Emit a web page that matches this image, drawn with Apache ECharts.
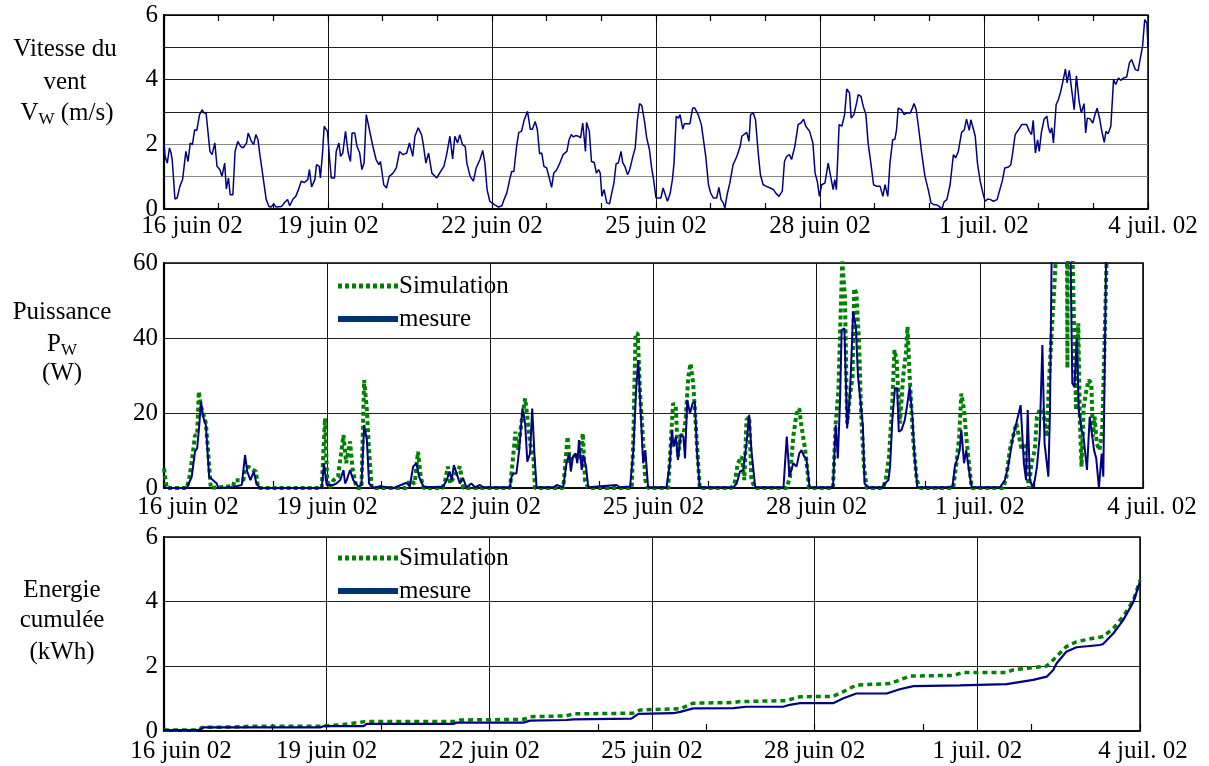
<!DOCTYPE html>
<html>
<head>
<meta charset="utf-8">
<script src="https://cdn.jsdelivr.net/npm/echarts@6/dist/echarts.min.js"></script>
<style>
html,body{margin:0;padding:0;background:#fff;}
#chart{width:1209px;height:766px;}
</style>
</head>
<body>
<div id="chart"></div>
<script>
// ---------- DATA ----------
const dayTickLabels = ['16 juin 02','19 juin 02','22 juin 02','25 juin 02','28 juin 02','1 juil. 02','4 juil. 02'];
const windYTicks = [0,2,4,6];
const powerYTicks = [0,20,40,60];
const energyYTicks = [0,2,4,6];

// wind speed (m/s): [days since 16 juin 02, value]
const windSpeed = [[0.00,2.04],[0.02,1.63],[0.06,1.42],[0.10,1.89],[0.13,1.73],[0.15,1.53],[0.20,0.31],[0.24,0.34],[0.29,0.70],[0.34,0.91],[0.40,1.78],[0.44,1.47],[0.48,2.04],[0.52,1.99],[0.56,2.45],[0.60,2.43],[0.65,2.92],[0.70,3.07],[0.73,2.97],[0.77,2.97],[0.84,1.78],[0.88,1.68],[0.93,2.04],[0.97,1.32],[1.02,1.22],[1.06,1.01],[1.11,1.42],[1.14,0.62],[1.18,0.96],[1.21,0.44],[1.26,0.44],[1.30,1.78],[1.35,2.09],[1.40,1.94],[1.45,1.89],[1.51,2.04],[1.54,2.35],[1.60,2.09],[1.64,1.99],[1.68,2.30],[1.72,2.14],[1.75,1.73],[1.81,1.01],[1.87,0.29],[1.92,0.08],[1.96,0.06],[2.01,0.16],[2.05,0.06],[2.15,0.08],[2.21,0.21],[2.26,0.29],[2.30,0.10],[2.36,0.31],[2.41,0.39],[2.46,0.60],[2.51,0.86],[2.57,0.82],[2.63,0.91],[2.66,1.22],[2.70,0.68],[2.76,0.91],[2.79,1.37],[2.84,1.32],[2.86,0.96],[2.90,1.73],[2.93,2.56],[2.96,2.51],[2.99,2.40],[3.03,1.53],[3.06,0.96],[3.12,0.96],[3.15,1.78],[3.20,2.04],[3.23,1.63],[3.27,1.73],[3.32,2.40],[3.37,1.73],[3.41,1.47],[3.44,2.35],[3.49,2.35],[3.53,1.94],[3.58,1.73],[3.62,1.22],[3.66,1.42],[3.70,2.92],[3.73,2.97],[3.77,2.35],[3.82,1.94],[3.88,1.53],[3.93,1.37],[3.96,1.47],[4.02,0.75],[4.07,0.65],[4.12,1.01],[4.19,1.11],[4.25,1.27],[4.31,1.78],[4.37,1.68],[4.44,1.73],[4.49,2.04],[4.55,1.63],[4.59,2.25],[4.65,2.51],[4.71,2.30],[4.74,2.04],[4.79,1.42],[4.84,1.73],[4.90,1.11],[4.99,0.96],[5.06,1.16],[5.12,1.32],[5.17,1.68],[5.23,2.25],[5.28,1.55],[5.32,2.25],[5.37,2.04],[5.41,2.30],[5.46,1.99],[5.51,1.94],[5.54,1.42],[5.60,1.01],[5.66,0.86],[5.71,1.27],[5.78,1.53],[5.83,1.81],[5.87,1.42],[5.91,0.60],[5.96,0.24],[6.00,0.19],[6.05,0.13],[6.12,0.06],[6.18,0.10],[6.22,0.29],[6.27,0.49],[6.33,0.96],[6.36,1.16],[6.40,1.16],[6.45,1.94],[6.49,2.37],[6.54,2.40],[6.59,2.76],[6.65,3.02],[6.70,2.47],[6.74,2.47],[6.79,2.71],[6.83,2.45],[6.87,1.71],[6.91,1.73],[6.95,1.32],[7.00,1.27],[7.04,1.01],[7.09,0.67],[7.13,1.11],[7.18,1.20],[7.24,1.42],[7.30,1.68],[7.37,1.78],[7.41,2.14],[7.45,2.30],[7.49,2.23],[7.53,2.27],[7.58,2.25],[7.62,2.20],[7.66,2.66],[7.71,1.78],[7.73,2.68],[7.78,2.40],[7.82,1.47],[7.87,1.44],[7.91,1.11],[7.95,1.22],[7.98,1.11],[8.01,0.39],[8.05,0.60],[8.10,0.19],[8.15,0.16],[8.19,0.49],[8.23,0.80],[8.27,1.40],[8.31,1.42],[8.36,1.78],[8.39,1.44],[8.43,1.32],[8.48,1.06],[8.52,1.22],[8.57,1.58],[8.62,1.89],[8.66,2.76],[8.70,3.26],[8.74,3.20],[8.79,2.71],[8.83,2.20],[8.88,1.84],[8.92,1.27],[8.96,0.86],[9.00,0.34],[9.04,0.34],[9.09,0.34],[9.13,0.65],[9.18,0.39],[9.21,0.24],[9.26,0.49],[9.30,0.91],[9.33,1.42],[9.37,2.87],[9.41,2.81],[9.44,2.92],[9.49,2.47],[9.52,2.64],[9.56,2.64],[9.62,2.64],[9.67,3.12],[9.71,3.12],[9.77,2.92],[9.83,2.61],[9.88,1.99],[9.91,1.63],[9.96,0.75],[10.00,0.49],[10.05,0.34],[10.11,0.34],[10.15,0.67],[10.19,0.29],[10.23,0.19],[10.26,0.03],[10.30,0.44],[10.35,0.80],[10.41,1.37],[10.48,1.63],[10.54,1.94],[10.57,2.25],[10.66,2.37],[10.70,2.09],[10.73,2.92],[10.78,2.97],[10.82,2.76],[10.87,1.73],[10.91,1.06],[10.96,0.75],[11.02,0.70],[11.09,0.65],[11.15,0.60],[11.19,0.49],[11.25,0.39],[11.31,0.55],[11.35,1.47],[11.39,1.63],[11.44,1.68],[11.48,1.53],[11.54,1.94],[11.60,2.61],[11.65,2.66],[11.70,2.78],[11.74,2.56],[11.81,2.40],[11.87,2.04],[11.91,1.11],[11.95,0.86],[11.99,0.39],[12.03,0.75],[12.09,0.80],[12.15,1.42],[12.20,0.96],[12.24,0.60],[12.27,0.91],[12.30,0.60],[12.35,2.61],[12.40,2.56],[12.45,2.92],[12.49,3.71],[12.54,3.59],[12.57,2.81],[12.62,2.92],[12.67,3.28],[12.70,3.54],[12.75,3.48],[12.79,3.18],[12.84,2.92],[12.88,2.04],[12.93,1.42],[12.98,0.75],[13.04,0.70],[13.10,0.70],[13.15,0.39],[13.19,0.75],[13.24,0.39],[13.28,1.42],[13.33,2.14],[13.37,2.16],[13.40,2.45],[13.43,3.12],[13.46,3.09],[13.49,3.07],[13.54,2.92],[13.59,2.97],[13.65,2.97],[13.69,3.12],[13.72,3.26],[13.76,3.07],[13.80,2.56],[13.86,1.73],[13.92,1.01],[13.98,0.60],[14.03,0.19],[14.09,0.13],[14.13,0.13],[14.18,0.08],[14.23,0.00],[14.27,0.22],[14.32,0.29],[14.38,0.75],[14.44,1.68],[14.48,1.58],[14.53,1.78],[14.59,2.37],[14.64,2.45],[14.68,2.78],[14.73,2.43],[14.76,2.76],[14.79,2.78],[14.84,2.25],[14.88,1.42],[14.93,0.86],[14.98,0.49],[15.02,0.24],[15.07,0.31],[15.12,0.29],[15.17,0.24],[15.24,0.29],[15.29,0.60],[15.34,0.91],[15.38,1.27],[15.45,1.30],[15.49,1.37],[15.52,1.68],[15.57,2.30],[15.63,2.45],[15.69,2.61],[15.78,2.61],[15.83,2.40],[15.87,2.30],[15.90,2.74],[15.94,1.73],[15.98,2.14],[16.01,1.78],[16.05,2.37],[16.10,2.78],[16.15,2.87],[16.18,2.51],[16.21,2.35],[16.24,2.51],[16.27,2.04],[16.32,3.23],[16.36,3.38],[16.40,3.61],[16.45,4.00],[16.49,4.33],[16.52,3.90],[16.56,4.29],[16.60,3.74],[16.65,3.07],[16.69,4.12],[16.74,3.33],[16.78,2.97],[16.83,3.26],[16.86,2.35],[16.89,2.81],[16.94,2.79],[16.99,2.66],[17.03,2.92],[17.07,3.12],[17.12,2.76],[17.15,2.45],[17.20,2.06],[17.23,2.40],[17.27,2.33],[17.32,2.56],[17.37,4.00],[17.41,3.85],[17.46,4.05],[17.50,3.98],[17.55,4.05],[17.61,4.08],[17.66,4.52],[17.70,4.62],[17.73,4.62],[17.77,4.31],[17.82,4.28],[17.85,4.57],[17.90,5.03],[17.94,5.86],[17.98,5.75],[18.00,4.98]];

// power (W), measured
const powerMesure = [[0.00,0.5],[0.05,0],[0.42,0],[0.51,3],[0.57,9.7],[0.61,10.6],[0.65,17],[0.68,23],[0.72,19],[0.77,16.8],[0.80,10],[0.83,3],[0.86,2.6],[0.97,1.2],[1.00,0],[1.27,0.3],[1.43,0.8],[1.49,8.8],[1.53,4.4],[1.59,2.1],[1.65,4.4],[1.70,1.2],[1.76,0],[2.90,0],[2.92,3],[2.94,6.6],[2.99,0.8],[3.11,0.8],[3.17,1.2],[3.24,2.1],[3.30,4.8],[3.33,1.2],[3.36,2.1],[3.42,4.8],[3.48,2.1],[3.57,0.4],[3.63,0.8],[3.68,16.8],[3.73,12.8],[3.77,1.2],[3.85,0],[3.97,0.5],[4.22,0],[4.46,1.4],[4.52,0.4],[4.58,5.7],[4.64,6.6],[4.69,3.0],[4.77,0.4],[4.89,0.2],[5.13,0.4],[5.20,2.1],[5.25,4.4],[5.29,2.1],[5.33,6.1],[5.38,3.9],[5.44,1.2],[5.50,2.6],[5.56,0.2],[5.65,1.2],[5.72,0.2],[5.81,0.8],[5.87,0.2],[6.36,0.2],[6.39,3.0],[6.43,3.9],[6.48,3.9],[6.53,10.1],[6.59,21.2],[6.64,17.2],[6.68,7.0],[6.73,9.2],[6.77,21.2],[6.81,9.2],[6.85,0.2],[7.16,0.2],[7.22,0.8],[7.34,0.2],[7.40,6.6],[7.45,9.2],[7.48,4.4],[7.52,8.4],[7.57,9.2],[7.60,6.6],[7.63,12.8],[7.68,4.8],[7.71,8.8],[7.76,5.7],[7.80,0.2],[8.32,0.8],[8.38,0.2],[8.57,0.4],[8.63,10.1],[8.68,26.1],[8.72,34.1],[8.76,21.7],[8.81,6.6],[8.85,10.1],[8.90,0.2],[9.24,0.2],[9.30,6.6],[9.34,15.5],[9.37,11.0],[9.41,13.7],[9.45,7.5],[9.50,14.1],[9.55,13.7],[9.58,7.9],[9.62,23.5],[9.67,19.9],[9.72,22.6],[9.76,23.0],[9.80,9.7],[9.85,0.2],[10.47,0.2],[10.53,1.2],[10.59,4.4],[10.65,4.8],[10.71,11.9],[10.76,19.5],[10.80,10.1],[10.87,0.2],[11.39,0.2],[11.45,13.7],[11.50,3.0],[11.57,6.6],[11.63,5.7],[11.68,9.2],[11.72,10.1],[11.77,8.4],[11.81,7.9],[11.87,0.2],[12.06,0.2],[12.09,0.5],[12.12,0.2],[12.30,0.2],[12.35,16.8],[12.39,7.9],[12.43,23.5],[12.46,42.1],[12.51,42.6],[12.56,15.9],[12.61,24.4],[12.64,35.0],[12.67,47.0],[12.72,43.0],[12.76,29.7],[12.81,22.6],[12.85,16.4],[12.88,1.2],[12.95,0.2],[13.22,0.2],[13.25,1.2],[13.32,2.1],[13.35,5.7],[13.39,18.1],[13.44,26.6],[13.48,26.6],[13.51,15.0],[13.56,15.5],[13.62,18.1],[13.66,21.7],[13.71,27.0],[13.76,19.0],[13.80,8.4],[13.85,0.2],[14.39,0.2],[14.50,0.5],[14.54,5.7],[14.60,8.4],[14.63,10.1],[14.66,15.5],[14.71,6.6],[14.75,10.1],[14.80,4.8],[14.85,0.2],[15.37,0.2],[15.46,2.1],[15.52,5.7],[15.61,13.7],[15.67,17.2],[15.75,22.1],[15.81,6.6],[15.85,2.1],[15.88,20.8],[15.92,2.1],[15.97,0.2],[16.01,2.1],[16.05,5.7],[16.10,13.7],[16.15,38.1],[16.19,11.9],[16.26,3.0],[16.29,20.8],[16.33,75],[16.38,90],[16.59,80],[16.66,70],[16.70,27.9],[16.74,27.0],[16.78,39.9],[16.82,20.8],[16.87,15.5],[16.90,14.6],[16.97,4.8],[17.02,19.0],[17.05,19.0],[17.10,10.1],[17.14,7.9],[17.19,0.0],[17.24,9.2],[17.27,3.0],[17.32,60],[17.36,90],[18.00,130]];

// power (W), simulation
const powerSimulation = [[0.00,5.2],[0.05,0],[0.42,0],[0.47,3.0],[0.53,9.2],[0.57,14.1],[0.61,14.1],[0.64,25.7],[0.68,21.7],[0.72,19.9],[0.77,17.2],[0.81,10.0],[0.86,0],[1.27,0.5],[1.30,2.1],[1.46,2.1],[1.49,4.8],[1.55,5.7],[1.64,4.8],[1.69,4.4],[1.73,0],[2.90,0],[2.96,18.6],[3.00,2.1],[3.05,0],[3.11,2.0],[3.20,3.0],[3.30,14.1],[3.35,6.6],[3.42,12.4],[3.47,4.8],[3.54,0],[3.63,0],[3.68,28.8],[3.73,20.8],[3.77,10.1],[3.82,0],[4.45,0],[4.52,2.0],[4.61,1.2],[4.67,9.7],[4.72,3.0],[4.77,0],[5.12,0],[5.17,2.1],[5.22,5.7],[5.26,1.2],[5.44,5.7],[5.50,0],[6.36,0],[6.42,8.4],[6.46,15.0],[6.51,10.0],[6.57,17.2],[6.64,23.9],[6.68,19.0],[6.73,11.9],[6.79,8.4],[6.82,0],[7.34,0],[7.38,6.6],[7.42,13.7],[7.46,6.6],[7.51,8.8],[7.59,8.4],[7.65,7.9],[7.70,14.6],[7.74,2.1],[7.80,0],[8.60,0],[8.63,13.7],[8.67,41.2],[8.71,41.2],[8.75,26.1],[8.79,17.2],[8.85,2.1],[8.90,0],[9.27,0],[9.31,10.1],[9.36,22.6],[9.41,21.7],[9.45,8.4],[9.50,14.1],[9.55,14.1],[9.59,18.1],[9.64,29.7],[9.68,33.2],[9.73,27.9],[9.79,13.7],[9.85,0],[10.43,0],[10.49,1.2],[10.55,6.6],[10.62,8.4],[10.67,2.1],[10.71,18.1],[10.76,19.0],[10.80,2.1],[10.87,0],[11.45,0],[11.51,3.0],[11.57,13.7],[11.63,19.9],[11.68,21.2],[11.72,16.4],[11.79,10.1],[11.82,6.0],[11.86,0],[12.30,0],[12.35,17.2],[12.40,26.1],[12.43,41.2],[12.47,60.4],[12.52,51.0],[12.56,17.2],[12.61,24.4],[12.66,29.7],[12.69,53.2],[12.73,51.9],[12.78,38.6],[12.82,19.0],[12.87,5.7],[12.92,0],[13.22,0],[13.27,2.1],[13.33,8.4],[13.39,22.6],[13.43,36.8],[13.47,34.1],[13.53,17.2],[13.59,29.7],[13.64,35.9],[13.67,43.0],[13.71,29.7],[13.77,13.7],[13.84,2.1],[13.90,0],[14.51,0],[14.57,6.6],[14.62,13.7],[14.66,25.2],[14.71,20.8],[14.75,13.7],[14.80,6.6],[14.85,0],[15.43,0],[15.49,3.0],[15.55,10.1],[15.61,13.7],[15.67,17.2],[15.72,13.7],[15.77,10.1],[15.81,11.9],[15.86,6.6],[15.90,0],[15.95,6.6],[16.01,10.1],[16.05,19.0],[16.10,20.8],[16.16,20.8],[16.23,13.7],[16.27,27.9],[16.32,41.2],[16.36,51.0],[16.41,65],[16.53,75],[16.60,70],[16.61,32],[16.62,70],[16.70,65],[16.73,45.7],[16.77,20.8],[16.81,43.9],[16.84,17.2],[16.87,5.7],[16.91,21.7],[16.96,26.1],[17.00,28.8],[17.05,27.9],[17.08,13.7],[17.11,19.0],[17.15,11.9],[17.20,10.1],[17.25,15.5],[17.29,36.8],[17.33,60],[17.38,90],[18.00,130]];

// cumulated energy (kWh)
const energyMesure = [[0,0.03],[0.66,0.03],[0.73,0.11],[2.88,0.11],[2.94,0.15],[3.68,0.15],[3.74,0.22],[5.33,0.22],[5.40,0.26],[6.63,0.26],[6.75,0.32],[7.42,0.34],[7.55,0.36],[8.62,0.38],[8.75,0.53],[9.39,0.55],[9.52,0.59],[9.76,0.70],[10.50,0.71],[10.74,0.75],[11.42,0.75],[11.54,0.81],[11.73,0.86],[12.34,0.86],[12.53,1.01],[12.77,1.16],[13.33,1.16],[13.57,1.29],[13.82,1.39],[14.68,1.41],[15.54,1.45],[16.03,1.58],[16.28,1.68],[16.40,1.89],[16.46,2.09],[16.64,2.45],[16.83,2.59],[17.26,2.66],[17.32,2.69],[17.51,3.02],[17.69,3.43],[17.88,4.00],[18.0,4.62]];
const energySimulation = [[0,0.03],[0.66,0.03],[0.69,0.11],[1.46,0.13],[1.56,0.15],[2.88,0.15],[3.31,0.20],[3.71,0.29],[5.33,0.29],[5.46,0.34],[6.63,0.36],[6.75,0.44],[7.42,0.47],[7.55,0.53],[8.65,0.55],[8.78,0.65],[9.52,0.69],[9.76,0.86],[10.50,0.88],[10.62,0.91],[11.48,0.94],[11.73,1.06],[12.34,1.07],[12.53,1.22],[12.77,1.42],[13.39,1.47],[13.57,1.58],[13.76,1.70],[14.55,1.72],[14.74,1.81],[15.54,1.81],[15.66,1.89],[16.28,2.01],[16.46,2.30],[16.64,2.61],[16.83,2.76],[17.14,2.87],[17.32,2.92],[17.51,3.18],[17.69,3.54],[17.88,4.05],[18.0,4.67]];

// ---------- CHART ----------
const FONT = 'Liberation Serif';
const chart = echarts.init(document.getElementById('chart'), null, {renderer:'canvas'});

function mainX(gridIndex, firstPad, lastPad, margin){
  return {
    type:'value', gridIndex, min:0, max:18, interval:3, position:'bottom',
    axisLine:{show:true, onZero:false, lineStyle:{color:'#000', width:1.5}},
    axisTick:{show:false},
    splitLine:{show:true, lineStyle:{color:'#111', width:1}},
    axisLabel:{
      show:true, margin, color:'#000', fontFamily:FONT, fontSize:25,
      formatter:(v)=>{
        const i = Math.round(v/3);
        const t = dayTickLabels[i];
        if(i===0) return '{f|'+t+'}';
        if(i===dayTickLabels.length-1) return '{l|'+t+'}';
        return t;
      },
      rich:{
        f:{padding:[0,0,0,firstPad], fontFamily:FONT, fontSize:25, color:'#000'},
        l:{padding:[0,0,0,lastPad], fontFamily:FONT, fontSize:25, color:'#000'}
      }
    }
  };
}
function tickX(gridIndex, interval, position, len){
  return {
    type:'value', gridIndex, min:0, max:18, interval, position,
    axisLine:{show:false}, axisLabel:{show:false}, splitLine:{show:false},
    axisTick:{show:true, inside:true, length:len, lineStyle:{color:'#000', width:1.2}}
  };
}
function yAx(gridIndex, max, interval, ticks, splitColors){
  return {
    type:'value', gridIndex, min:0, max, interval,
    axisLine:{show:true, lineStyle:{color:'#000', width:2.2}},
    axisTick:{show:false},
    splitLine:{show:true, lineStyle:{color:splitColors, width:1}},
    axisLabel:{
      margin:6, color:'#000', fontFamily:FONT, fontSize:25,
      formatter:(v)=> ticks.indexOf(v) >= 0 ? String(v) : ''
    }
  };
}

const legendBase = {
  orient:'vertical', itemWidth:60, itemHeight:12, itemGap:3,
  textStyle:{fontFamily:FONT, fontSize:25, color:'#000', padding:[0,0,0,-4], lineHeight:30},
  itemStyle:{opacity:0, borderWidth:0},
  lineStyle:{width:5},
  data:[{name:'Simulation'},{name:'mesure', lineStyle:{color:'#00336b', width:6, type:'solid'}}],
  selectedMode:false
};

const titleStyle = {fontFamily:FONT, fontSize:25, fill:'#000', textAlign:'center', textVerticalAlign:'middle'};
function titleText(x, y, text){
  return {type:'text', x, y, style:Object.assign({}, titleStyle, {text})};
}
function subText(x, y, main, sub, rest){
  return {type:'text', x, y, style:{
    text:'{n|'+main+'}{s|'+sub+'}{n|'+rest+'}',
    textAlign:'center', textVerticalAlign:'middle',
    rich:{
      n:{fontFamily:FONT, fontSize:25, fill:'#000', lineHeight:30},
      s:{fontFamily:FONT, fontSize:17, fill:'#000', lineHeight:14, verticalAlign:'bottom'}
    }
  }};
}

const option = {
  animation:false,
  backgroundColor:'#fff',
  grid:[
    {left:164, top:15, width:984, height:194, show:true, borderColor:'#000', borderWidth:1.5, backgroundColor:'transparent'},
    {left:164, top:263, width:979, height:225, show:true, borderColor:'#000', borderWidth:1.5, backgroundColor:'transparent'},
    {left:164, top:537, width:976, height:194, show:true, borderColor:'#000', borderWidth:1.5, backgroundColor:'transparent'}
  ],
  xAxis:[
    mainX(0, 56, 10, 5),
    mainX(1, 48, 18, 7),
    mainX(2, 34, 6, 8),
    tickX(0, 1, 'bottom', 6),
    tickX(0, 1, 'top', 6),
    tickX(1, 2, 'bottom', 7),
    tickX(2, 2, 'bottom', 7)
  ],
  yAxis:[
    yAx(0, 6, 1, windYTicks, ['#000','#888','#888','#222','#222','#222','#000']),
    yAx(1, 60, 20, powerYTicks, '#222'),
    yAx(2, 6, 2, energyYTicks, '#222')
  ],
  legend:[
    Object.assign({}, legendBase, {left:330, top:266}),
    Object.assign({}, legendBase, {left:330, top:538})
  ],
  graphic:[
    titleText(65, 49, 'Vitesse du'),
    titleText(65, 82, 'vent'),
    subText(67, 113, 'V', 'W', ' (m/s)'),
    titleText(62, 312, 'Puissance'),
    subText(62, 344, 'P', 'W', ''),
    titleText(62, 373, '(W)'),
    titleText(62, 590, 'Energie'),
    titleText(62, 620, 'cumulée'),
    titleText(62, 652, '(kWh)')
  ],
  series:[
    {type:'line', name:'Vent', xAxisIndex:0, yAxisIndex:0, data:windSpeed, symbol:'none', clip:true,
     lineStyle:{color:'#000080', width:1.5}},
    {type:'line', name:'Simulation', xAxisIndex:1, yAxisIndex:1, data:powerSimulation, symbol:'none', clip:true,
     itemStyle:{color:'#008000'}, lineStyle:{color:'#008000', width:4, type:[4,3]}},
    {type:'line', name:'mesure', xAxisIndex:1, yAxisIndex:1, data:powerMesure, symbol:'none', clip:true,
     itemStyle:{color:'#000080'}, lineStyle:{color:'#000080', width:2}},
    {type:'line', name:'Simulation', xAxisIndex:2, yAxisIndex:2, data:energySimulation, symbol:'none', clip:true,
     itemStyle:{color:'#008000'}, lineStyle:{color:'#008000', width:3.5, type:[5,4]}},
    {type:'line', name:'mesure', xAxisIndex:2, yAxisIndex:2, data:energyMesure, symbol:'none', clip:true,
     itemStyle:{color:'#000080'}, lineStyle:{color:'#000080', width:2.2}}
  ]
};
chart.setOption(option);
</script>
</body>
</html>
